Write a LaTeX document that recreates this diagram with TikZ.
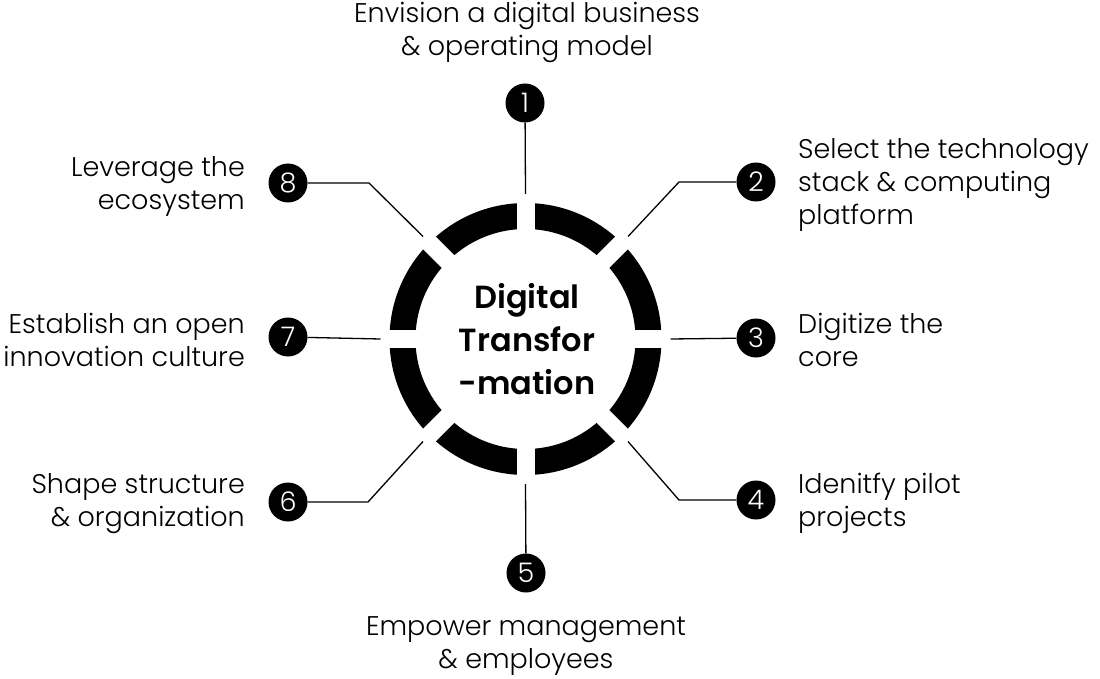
\documentclass[tikz,border=0pt]{standalone}
\usepackage{fontspec}
\setmainfont{Poppins}[UprightFont={* Light},BoldFont={* SemiBold}]
\usepackage{tikz}

\begin{document}
\begin{tikzpicture}[x=1pt,y=-1pt,
  num/.style={circle,fill=black,text=white,minimum size=39pt,inner sep=0pt,
    font=\fontsize{27}{27}\selectfont},
  lbl/.style={inner sep=0pt,font=\fontsize{27}{33}\selectfont},
  link/.style={line width=1.3pt},
  gap/.style={white,line width=18pt}]
\useasboundingbox (0,0) rectangle (1100,679);

% ring with eight gaps
\coordinate (c) at (525.5,339);
\draw [line width=26pt] (c) circle (123pt);
\draw [gap] (525.5,189) -- (525.5,489);
\draw [gap] (375.5,339) -- (675.5,339);
\draw [gap] (420,233.5) -- (631,444.5);
\draw [gap] (420,444.5) -- (631,233.5);
\node [font=\fontsize{32}{43}\selectfont\bfseries, align=center] (core) at (527,339)
  {Digital\\Transfor\\-mation};

% numbered dots
\node [num] (n1) at (525,103) {1};
\node [num] (n2) at (756,182) {2};
\node [num] (n3) at (756,338) {3};
\node [num] (n4) at (756,500) {4};
\node [num] (n5) at (526,573) {5};
\node [num] (n6) at (288,502) {6};
\node [num] (n7) at (288,337) {7};
\node [num] (n8) at (288,183) {8};

% ends of the connectors at the ring
\coordinate (g1) at (525.5,194);
\coordinate (g2) at (628,236.5);
\coordinate (g3) at (670.5,339);
\coordinate (g4) at (628,441.5);
\coordinate (g5) at (525.5,484);
\coordinate (g6) at (423,441.5);
\coordinate (g7) at (380.5,339);
\coordinate (g8) at (423,236.5);
\coordinate (k2) at (679,182);
\coordinate (k4) at (679,500);
\coordinate (k6) at (368,502);
\coordinate (k8) at (369,183);

\draw [link] (g1) -- (n1);
\draw [link] (g2) -- (k2) -- (n2);
\draw [link] (g3) -- (n3);
\draw [link] (g4) -- (k4) -- (n4);
\draw [link] (g5) -- (n5);
\draw [link] (g6) -- (k6) -- (n6);
\draw [link] (g7) -- (n7);
\draw [link] (g8) -- (k8) -- (n8);

% labels
\node [lbl, align=center] (l1) at (527,32) {Envision a digital business\\\& operating model};
\node [lbl, align=left, anchor=west] (l2) at (798,185) {Select the technology\\stack \& computing\\platform};
\node [lbl, align=left, anchor=west] (l3) at (798,340) {Digitize the\\core};
\node [lbl, align=left, anchor=west] (l4) at (798,503) {Idenitfy pilot\\projects};
\node [lbl, align=center] (l5) at (526,646) {Empower management\\\& employees};
\node [lbl, align=right, anchor=east] (l6) at (245,504) {Shape structure\\\& organization};
\node [lbl, align=right, anchor=east] (l7) at (245,340) {Establish an open\\innovation culture};
\node [lbl, align=right, anchor=east] (l8) at (245,186) {Leverage the\\ecosystem};
\end{tikzpicture}
\end{document}
